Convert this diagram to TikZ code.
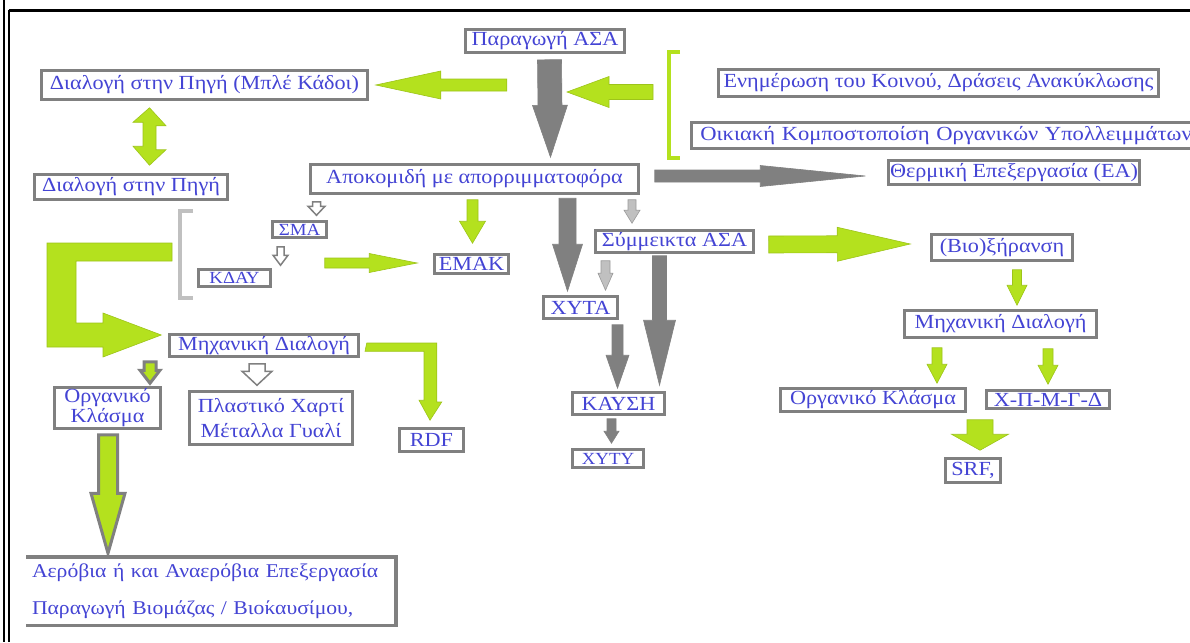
\documentclass[tikz,border=0pt]{standalone}
\usepackage{fontspec}
\setmainfont[FakeStretch=1.11]{Liberation Serif}
\usepackage{xcolor}
\usepackage{tikz}
\usetikzlibrary{calc, positioning}
\definecolor{wlime}{HTML}{B4E11E}
\definecolor{wlimedark}{HTML}{9DC41A}
\definecolor{wgray}{HTML}{808080}
\definecolor{wlightgray}{HTML}{C0C0C0}
\definecolor{wtext}{HTML}{4444D4}

\newcommand{\flowarrow}[6][]{%
  \coordinate (fa-s) at (#2);
  \coordinate (fa-e) at (#3);
  \coordinate (fa-h) at ($(fa-e)!#6pt!(fa-s)$);
  \draw[#1] ($(fa-s)!#4pt!90:(fa-e)$) -- ($(fa-h)!#4pt!90:(fa-e)$) -- ($(fa-h)!#5pt!90:(fa-e)$) -- (fa-e)
    -- ($(fa-h)!#5pt!-90:(fa-e)$) -- ($(fa-h)!#4pt!-90:(fa-e)$) -- ($(fa-s)!#4pt!-90:(fa-e)$) -- cycle;}

\begin{document}
\begin{tikzpicture}[
  x=1pt, y=-1pt,
  box/.style={draw=wgray, line width=3.5pt, fill=white, text=wtext, inner sep=0pt, align=center, font=\fontsize{20}{22}\selectfont},
  smallbox/.style={box, font=\fontsize{17}{19}\selectfont},
  garr/.style={fill=wlime, draw=wlimedark, line width=0.6pt},
  gyarr/.style={fill=wgray, draw=wgray, line width=0.6pt},
  lgarr/.style={fill=wlightgray, draw=wgray!80, line width=0.6pt},
  warr/.style={fill=white, draw=wgray, line width=1.5pt},
  goarr/.style={fill=wlime, draw=wgray, line width=3pt},
  brk/.style={line width=4pt}
]
\useasboundingbox (0,0) rectangle (1190,642);
\clip (0,0) rectangle (1190,642);

\draw[black, line width=2pt] (3.5,0) -- (3.5,642);
\draw[black, line width=2pt] (8.5,10.5) -- (8.5,642);
\draw[black, line width=2.5pt] (8.5,10.5) -- (1190,10.5);

\node[box, minimum width=159, minimum height=23] (prod) at (545,41) {Παραγωγή ΑΣΑ};
\node[box, minimum width=326, minimum height=29] (blebin) at (204.5,85) {Διαλογή στην Πηγή (Μπλέ Κάδοι)};
\node[box, minimum width=193, minimum height=25] (source) at (131,187) {Διαλογή στην Πηγή};
\node[box, minimum width=440, minimum height=27] (inform) at (938.5,83) {Ενημέρωση του Κοινού, Δράσεις Ανακύκλωσης};
\node[box, anchor=west, minimum height=26, text width=540, inner xsep=9pt, align=left, font=\addfontfeature{FakeStretch=1.13}\fontsize{20}{22}\selectfont] (compost) at (689.5,135.5) {Οικιακή Κομποστοποίση Οργανικών Υπολλειμμάτων};
\node[box, minimum width=251, minimum height=24] (thermal) at (1014,172.5) {Θερμική Επεξεργασία (ΕΑ)};
\node[box, minimum width=328, minimum height=29] (apokom) at (474.5,179) {Αποκομιδή με απορριμματοφόρα};
\node[smallbox, minimum width=54, minimum height=16] (sma) at (299.5,229.5) {ΣΜΑ};
\node[smallbox, minimum width=72, minimum height=17] (kdau) at (234.5,278) {ΚΔΑΥ};
\node[box, minimum width=74, minimum height=19] (emak) at (471.5,264) {ΕΜΑΚ};
\node[box, minimum width=158, minimum height=22] (mixed) at (674.5,241.5) {Σύμμεικτα ΑΣΑ};
\node[box, minimum width=74, minimum height=22] (xyta) at (580.5,307.5) {ΧΥΤΑ};
\node[box, minimum width=92, minimum height=22] (kafsi) at (618.5,403.5) {ΚΑΥΣΗ};
\node[smallbox, minimum width=71, minimum height=18] (xyty) at (608,458.5) {ΧΥΤΥ};
\node[box, minimum width=141, minimum height=26] (drying) at (1002,247.5) {(Βιο)ξήρανση};
\node[box, minimum width=192, minimum height=27] (mechR) at (1000.5,324) {Μηχανική Διαλογή};
\node[box, minimum width=185, minimum height=23] (orgR) at (873,400) {Οργανικό Κλάσμα};
\node[box, minimum width=123, minimum height=18] (xpmgd) at (1048,399.5) {Χ-Π-Μ-Γ-Δ};
\node[box, minimum width=55, minimum height=24] (srf) at (973,470.5) {SRF,};
\node[box, minimum width=189, minimum height=22] (mechL) at (264,345.5) {Μηχανική Διαλογή};
\node[box, minimum width=64, minimum height=23] (rdf) at (431.5,440) {RDF};
\node[box, minimum width=163, minimum height=53, font=\fontsize{20}{25}\selectfont] (plastic) at (271,418) {Πλαστικό Χαρτί\\Μέταλλα Γυαλί};
\node[box, minimum width=106, minimum height=41, font=\fontsize{20}{20}\selectfont] (orgL) at (107.5,408) {Οργανικό\\Κλάσμα};
\node[box, draw=none, minimum height=65, text width=358, inner xsep=4pt, align=left, font=\fontsize{19.5}{37}\selectfont] (aerob) at (211,591) {Αερόβια ή και Αναερόβια Επεξεργασία\\Παραγωγή Βιομάζας / Βιο\rlap{΄}καυσίμου,};
\draw[wgray, line width=3.5pt] (aerob.north west) -- (aerob.north east) -- (aerob.south east) -- (aerob.south west);

\coordinate (brk) at (669,105);
\draw[wlime, brk] ($(brk)+(11,-53)$) -- ($(brk)+(0,-53)$) -- ($(brk)+(0,53)$) -- ($(brk)+(11,53)$);
\draw[wlightgray, brk] (193,211) -- (180,211) -- (180,298) -- (193,298);

\draw[garr] ($(source.north |- blebin.south)+(18.5,6.5)$) -- ++(16.5,18) -- ++(-10,0) -- ++(0,24) -- ++(10,0)
  -- ($(source.north)+(18.5,-7.5)$) -- ++(-16.5,-19) -- ++(10,0) -- ++(0,-24) -- ++(-10,0) -- cycle;

\flowarrow[garr]{$(blebin.east)+(137.5,0)$}{$(blebin.east)+(6.5,0)$}{6}{14}{65}
\flowarrow[gyarr]{$(prod.south)+(4.5,5.5)$}{$(prod.south |- apokom.north)+(5.5,-5.5)$}{12}{17.5}{52}
\flowarrow[garr]{$(brk)+(-16,-13)$}{$(brk)+(-102,-13)$}{7.5}{15.5}{42}
\flowarrow[gyarr]{$(apokom.east)+(14.5,-3)$}{$(thermal.west)+(-21.5,3.5)$}{6}{10.5}{105}
\flowarrow[warr]{$(sma.north |- apokom.south)+(17,6.5)$}{$(sma.north)+(17,-4.5)$}{4}{8.5}{9}
\flowarrow[warr]{$(sma.south)+(-19,7.5)$}{$(sma.south |- kdau.north)+(-19,-2.5)$}{3.5}{7.5}{10}
\flowarrow[garr]{$(kdau.east |- emak.west)+(52.5,-1)$}{$(emak.west)+(-15.5,-1)$}{5}{9.5}{48}
\flowarrow[garr]{$(emak.north |- apokom.south)+(1,4.5)$}{$(emak.north)+(1,-9.5)$}{5.5}{13}{22}
\flowarrow[gyarr]{$(xyta.north |- apokom.south)+(-13,3)$}{$(xyta.north)+(-13,-3.5)$}{8.5}{15}{47}
\flowarrow[lgarr]{$(mixed.north |- apokom.south)+(-42.5,4.5)$}{$(mixed.north)+(-42.5,-5.5)$}{4}{8}{13}
\flowarrow[lgarr]{$(xyta.north |- mixed.south)+(25,6.5)$}{$(xyta.north)+(25,-4.5)$}{4.5}{7.5}{17}
\flowarrow[gyarr]{$(kafsi.north |- mixed.south)+(41,1.5)$}{$(kafsi.north)+(41,-5.5)$}{7}{16}{65}
\flowarrow[gyarr]{$(kafsi.north |- xyta.south)+(-1,4.5)$}{$(kafsi.north)+(-1,-2.5)$}{5.5}{11.5}{33}
\flowarrow[gyarr]{$(xyty.north |- kafsi.south)+(3.5,2.5)$}{$(xyty.north)+(3.5,-4.5)$}{4.5}{7.5}{12}
\flowarrow[garr]{$(mixed.east)+(13.5,3)$}{$(drying.west)+(-19.5,-3.5)$}{8.5}{17}{73}
\flowarrow[garr]{$(mechR.north |- drying.south)+(16.5,7.5)$}{$(mechR.north)+(16.5,-3.5)$}{4.5}{10}{20}
\flowarrow[garr]{$(orgR.north |- mechR.south)+(64,8.5)$}{$(orgR.north)+(64,-3.5)$}{5}{10}{19}
\flowarrow[garr]{$(xpmgd.north |- mechR.south)+(0,9.5)$}{$(xpmgd.north)+(0,-4.5)$}{5}{10}{19}
\flowarrow[garr]{$(srf.north |- orgR.south)+(7,6.5)$}{$(srf.north)+(7,-6.5)$}{13}{28.5}{16}
\flowarrow[warr]{$(plastic.north |- mechL.south)+(-14,5.5)$}{$(plastic.north)+(-14,-4.5)$}{8}{15}{14}
\flowarrow[goarr]{$(orgL.north |- mechL.south)+(42.5,3.5)$}{$(orgL.north)+(42.5,-2.5)$}{6}{10}{13}
\flowarrow[goarr]{$(orgL.south)+(0.5,4.5)$}{$(orgL.south |- aerob.north)+(0.5,-3.5)$}{9.5}{17}{60}

\draw[garr] (47,243) -- (172,243) -- (172,261) -- (76,261) -- (76,323) -- (103,323) -- (103,313)
  -- ($(mechL.west)+(-6.5,-10.5)$) -- (103,357) -- (103,347) -- (47,347) -- cycle;
\draw[garr] ($(mechL.east)+(6.5,-2.5)$) -- ++(70,0) -- ++(0,59) -- ++(5,0) -- ($(rdf.north)+(-1.5,-6.5)$)
  -- ++(-11,-20) -- ++(5,0) -- ++(0,-49) -- ++(-59,0) -- cycle;
\end{tikzpicture}
\end{document}
